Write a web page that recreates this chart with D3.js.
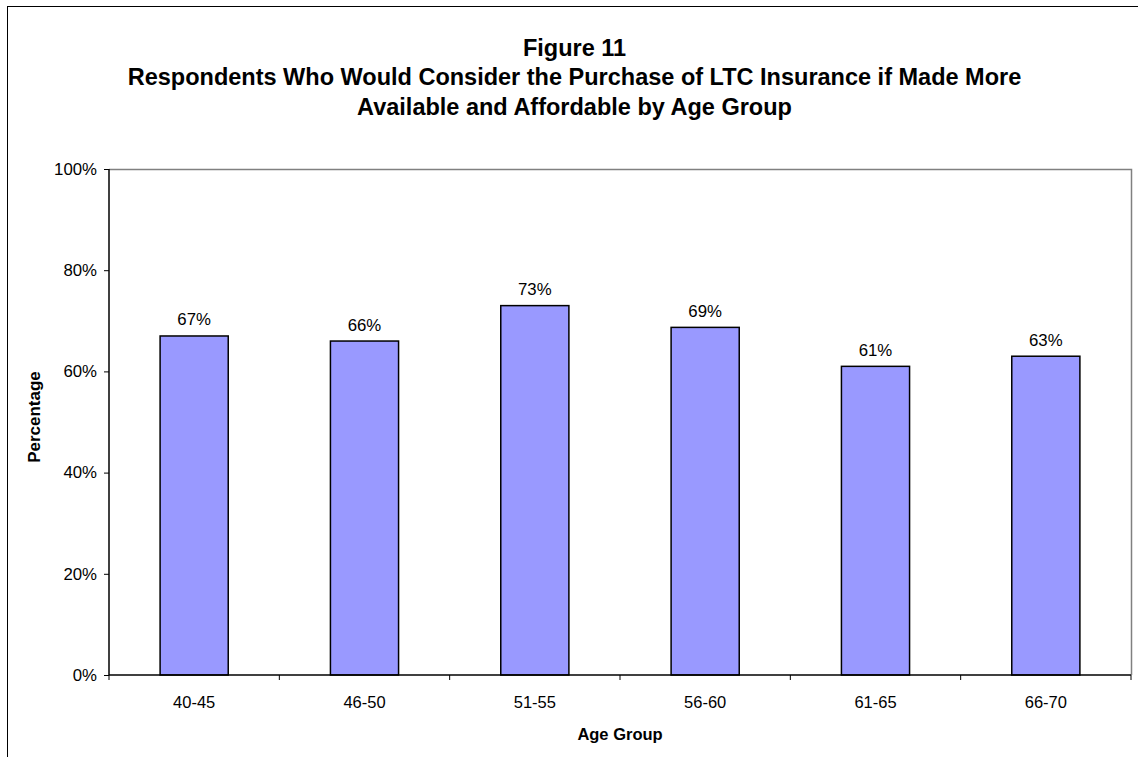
<!DOCTYPE html>
<html>
<head>
<meta charset="utf-8">
<script src="https://cdn.jsdelivr.net/npm/d3@7"></script>
<style>
  body { margin: 0; background: #fff; }
  text { font-family: Arial, "Liberation Sans", sans-serif; fill: #000; }
</style>
</head>
<body>
<div id="chart"></div>
<script>
// Chart data
const ageGroups = ["40-45", "46-50", "51-55", "56-60", "61-65", "66-70"];
const percentages = [67, 66, 73, 68.7, 61, 63];
const barLabels = ["67%", "66%", "73%", "69%", "61%", "63%"];
const yTicks = [0, 20, 40, 60, 80, 100];
const titleLines = [
  "Figure 11",
  "Respondents Who Would Consider the Purchase of LTC Insurance if Made More",
  "Available and Affordable by Age Group"
];

const width = 1138, height = 757;
const plot = {left: 109, right: 1131, top: 169, bottom: 675};
const font = "Arial, 'Liberation Sans', sans-serif";

const svg = d3.select("#chart")
  .append("svg")
  .attr("width", width)
  .attr("height", height);

// outer chart border (runs off the right and bottom edges)
svg.append("rect")
  .attr("x", 7.5).attr("y", 6.5)
  .attr("width", width + 20).attr("height", height + 20)
  .attr("fill", "none")
  .attr("stroke", "#000")
  .attr("stroke-width", 1);

// scales
const x = d3.scaleBand().domain(ageGroups).range([plot.left, plot.right]).paddingInner(0).paddingOuter(0);
const y = d3.scaleLinear().domain([0, 100]).range([plot.bottom, plot.top]);

// plot area frame: grey top/right
svg.append("path")
  .attr("d", `M${plot.left},${plot.top + 0.5}H${plot.right + 0.5}V${plot.bottom}`)
  .attr("fill", "none")
  .attr("stroke", "#808080")
  .attr("stroke-width", 1.5);

// bars
const barW = x.bandwidth() * 0.4;
svg.selectAll("rect.bar")
  .data(percentages)
  .enter()
  .append("rect")
  .attr("class", "bar")
  .attr("x", (d, i) => x(ageGroups[i]) + (x.bandwidth() - barW) / 2)
  .attr("y", d => y(d))
  .attr("width", barW)
  .attr("height", d => plot.bottom - y(d))
  .attr("fill", "#9999FF")
  .attr("stroke", "#000")
  .attr("stroke-width", 1.5);

// value labels
svg.selectAll("text.val")
  .data(percentages)
  .enter()
  .append("text")
  .attr("class", "val")
  .attr("x", (d, i) => x(ageGroups[i]) + x.bandwidth() / 2)
  .attr("y", d => y(d) - 10.5)
  .attr("text-anchor", "middle")
  .style("font-size", "16.8px")
  .text((d, i) => barLabels[i]);

// y axis
const yAxis = svg.append("g")
  .attr("transform", `translate(${plot.left},0)`)
  .call(d3.axisLeft(y).tickValues(yTicks).tickFormat(d => d + "%").tickSize(5).tickPadding(7));
yAxis.select(".domain").attr("stroke", "#000").attr("stroke-width", 1.5).attr("d", `M0,${plot.top}V${plot.bottom}`);
yAxis.selectAll(".tick line").attr("stroke", "#000");
yAxis.selectAll(".tick text").style("font-size", "16.8px").style("font-family", font).attr("fill", "#000");

// x axis: labels in band centres, ticks on band edges
const xAxis = svg.append("g")
  .attr("transform", `translate(0,${plot.bottom})`)
  .call(d3.axisBottom(x).tickSize(0).tickPadding(21));
xAxis.select(".domain").attr("stroke", "#000").attr("stroke-width", 1.5).attr("d", `M${plot.left},0H${plot.right}`);
xAxis.selectAll(".tick text").style("font-size", "16.5px").style("font-family", font).attr("fill", "#000");

const edges = ageGroups.map(g => x(g)).concat([plot.right]);
xAxis.selectAll("line.edge")
  .data(edges)
  .enter()
  .append("line")
  .attr("class", "edge")
  .attr("x1", d => d).attr("x2", d => d)
  .attr("y1", 0).attr("y2", 5)
  .attr("stroke", "#000");

// title
svg.append("g").selectAll("text")
  .data(titleLines)
  .enter()
  .append("text")
  .attr("x", 574.5)
  .attr("y", (d, i) => 55.5 + i * 29.5)
  .attr("text-anchor", "middle")
  .style("font-size", "23.5px")
  .style("font-weight", "bold")
  .text(d => d);

// axis titles
svg.append("text")
  .attr("transform", "translate(40,417) rotate(-90)")
  .attr("text-anchor", "middle")
  .style("font-size", "17px")
  .style("font-weight", "bold")
  .text("Percentage");

svg.append("text")
  .attr("x", (plot.left + plot.right) / 2)
  .attr("y", 740)
  .attr("text-anchor", "middle")
  .style("font-size", "16.5px")
  .style("font-weight", "bold")
  .text("Age Group");
</script>
</body>
</html>
